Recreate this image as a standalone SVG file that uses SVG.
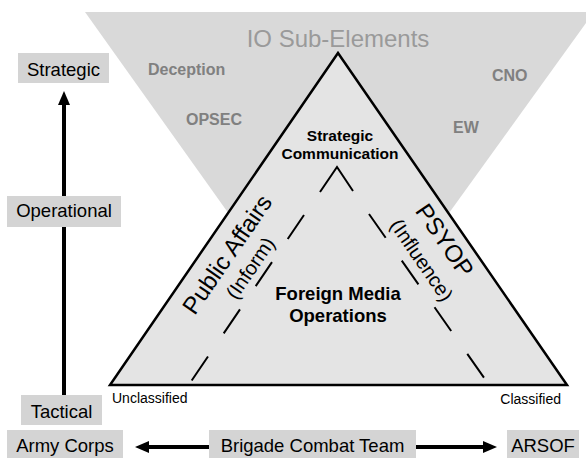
<svg xmlns="http://www.w3.org/2000/svg" width="586" height="458" viewBox="0 0 586 458">
<defs>
<style>
text{font-family:"Liberation Sans",Arial,sans-serif}
.box{fill:#d4d4d4}
.lbl{font-size:18.5px;fill:#000;text-anchor:middle}
.sub{font-size:16px;font-weight:bold;fill:#808080}
.bold{font-weight:bold;fill:#000;text-anchor:middle}
.conn{stroke:#000;stroke-width:4;fill:none}
.dash{stroke:#000;stroke-width:2;fill:none;stroke-dasharray:29 28}
</style>
<marker id="ah" viewBox="0 0 14 12" refX="0" refY="6" markerWidth="14" markerHeight="12" markerUnits="userSpaceOnUse" orient="auto">
<path d="M0,0 L14,6 L0,12 z" fill="#000"/>
</marker>
</defs>
<rect width="586" height="458" fill="#fff"/>
<g id="io-sub-elements">
<polygon points="85,12 594,12 338,367" fill="#d9d9d9"/>
<text x="338" y="47" font-size="24" fill="#9a9a9a" text-anchor="middle">IO Sub-Elements</text>
<text class="sub" x="148" y="75">Deception</text>
<text class="sub" x="186" y="125">OPSEC</text>
<text class="sub" x="492" y="81">CNO</text>
<text class="sub" x="453" y="133">EW</text>
</g>
<g id="triangle">
<polygon points="338,53 567,385 110,385" fill="#e4e4e4" stroke="#000" stroke-width="2.5" stroke-linejoin="miter"/>
<path d="M320,192 L337,167 L353,191" stroke="#000" stroke-width="2" fill="none"/>
<line class="dash" x1="304" y1="215" x2="190" y2="383"/>
<line class="dash" x1="369" y1="214" x2="487" y2="382"/>
<text class="bold" x="340" y="140.5" font-size="15.5">Strategic</text>
<text class="bold" x="340" y="159" font-size="15.5">Communication</text>
<text class="bold" x="338" y="300" font-size="18.5">Foreign Media</text>
<text class="bold" x="338" y="322" font-size="18.5">Operations</text>
<text transform="translate(234,259) rotate(-55.5)" font-size="24" text-anchor="middle">Public Affairs</text>
<text transform="translate(256,272) rotate(-55.5)" font-size="20" text-anchor="middle">(Inform)</text>
<text transform="translate(438,245) rotate(55.5)" font-size="24" text-anchor="middle">PSYOP</text>
<text transform="translate(416,264) rotate(55.5)" font-size="20" text-anchor="middle">(Influence)</text>
<text x="112" y="403" font-size="14">Unclassified</text>
<text x="561" y="404" font-size="14" text-anchor="end">Classified</text>
</g>
<g id="connectors">
<line class="conn" x1="64" y1="395" x2="64" y2="105" marker-end="url(#ah)"/>
<line class="conn" x1="209" y1="447" x2="149" y2="447" marker-end="url(#ah)"/>
<line class="conn" x1="416" y1="447" x2="483" y2="447" marker-end="url(#ah)"/>
</g>
<g id="strategic"><rect class="box" x="18" y="53" width="91" height="30"/><text class="lbl" x="63.5" y="76">Strategic</text></g>
<g id="operational"><rect class="box" x="7" y="196" width="114" height="31"/><text class="lbl" x="64" y="217">Operational</text></g>
<g id="tactical"><rect class="box" x="21" y="395" width="81" height="30"/><text class="lbl" x="61.5" y="418">Tactical</text></g>
<g id="army-corps"><rect class="box" x="7" y="430" width="116" height="28"/><text class="lbl" x="65" y="452">Army Corps</text></g>
<g id="brigade-combat-team"><rect class="box" x="209" y="430" width="207" height="28"/><text class="lbl" x="312.5" y="452">Brigade Combat Team</text></g>
<g id="arsof"><rect class="box" x="507" y="430" width="72" height="28"/><text class="lbl" x="543" y="452">ARSOF</text></g>
</svg>
